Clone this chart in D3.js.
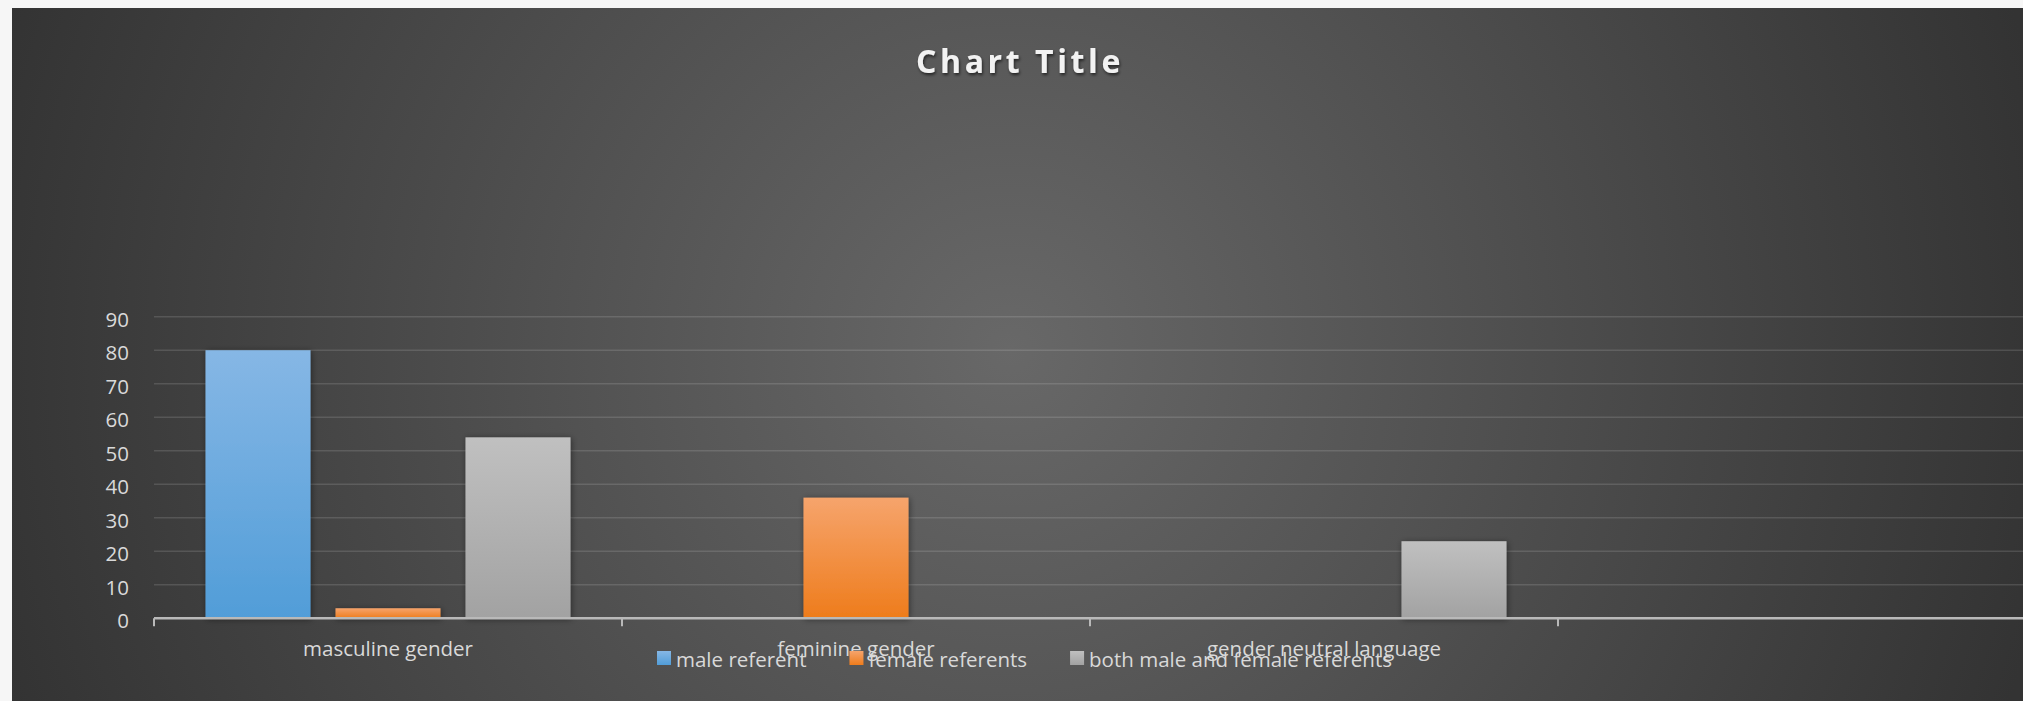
<!DOCTYPE html>
<html>
<head>
<meta charset="utf-8">
<script src="https://cdn.jsdelivr.net/npm/d3@7"></script>
<style>
  html, body { margin: 0; padding: 0; background: #f6f6f6; overflow: hidden; }
  svg { display: block; }
  text { font-family: "Open Sans", "Noto Sans", sans-serif; }
</style>
</head>
<body>
<svg id="chart" width="2023" height="701"></svg>
<script>
// ---- data ----
const categories = ["masculine gender", "feminine gender", "gender neutral language", ""];
const seriesNames = ["male referent", "female referents", "both male and female referents"];
const maleReferent = [80, null, null, null];
const femaleReferents = [3, 36, null, null];
const bothReferents = [54, null, 23, null];
const yTicks = [0, 10, 20, 30, 40, 50, 60, 70, 80, 90];
const chartTitle = "Chart Title";

const seriesValues = [maleReferent, femaleReferents, bothReferents];
const seriesColors = [
  ["#86b7e5", "#519dd8"],
  ["#f6a46c", "#ee7c1c"],
  ["#c0c0c0", "#a2a2a2"]
];

const W = 2023, H = 701;
const svg = d3.select("#chart");
const defs = svg.append("defs");

// background gradient
const bg = defs.append("radialGradient").attr("id", "bgGrad")
  .attr("gradientUnits", "userSpaceOnUse")
  .attr("cx", 1010).attr("cy", 350).attr("r", 1060);
bg.append("stop").attr("offset", 0).attr("stop-color", "#686868");
bg.append("stop").attr("offset", 1).attr("stop-color", "#333333");

seriesColors.forEach((c, i) => {
  const g = defs.append("linearGradient").attr("id", "barGrad" + i)
    .attr("x1", 0).attr("y1", 0).attr("x2", 0).attr("y2", 1);
  g.append("stop").attr("offset", 0).attr("stop-color", c[0]);
  g.append("stop").attr("offset", 1).attr("stop-color", c[1]);
});

const shadow = defs.append("filter").attr("id", "barShadow")
  .attr("x", "-20%").attr("y", "-20%").attr("width", "140%").attr("height", "140%");
shadow.append("feDropShadow").attr("dx", 1).attr("dy", 1).attr("stdDeviation", 3)
  .attr("flood-color", "#000").attr("flood-opacity", 0.45);

const tShadow = defs.append("filter").attr("id", "titleShadow")
  .attr("x", "-10%").attr("y", "-30%").attr("width", "120%").attr("height", "160%");
tShadow.append("feDropShadow").attr("dx", 1).attr("dy", 2).attr("stdDeviation", 1.5)
  .attr("flood-color", "#000").attr("flood-opacity", 0.6);

svg.append("rect").attr("x", 12).attr("y", 8).attr("width", W - 12).attr("height", H - 8)
  .attr("fill", "url(#bgGrad)");

// ---- scales ----
const plotLeft = 154, bandW = 468;
const x0 = d3.scaleBand().domain(d3.range(categories.length))
  .range([plotLeft, plotLeft + bandW * categories.length]).paddingInner(0).paddingOuter(0);
const x1 = d3.scaleBand().domain(d3.range(seriesNames.length))
  .range([51.5, bandW - 51.5]).paddingInner(25 / 130).paddingOuter(0);
const y = d3.scaleLinear().domain([0, 90]).range([618.3, 316.7]);

// gridlines
svg.append("g").selectAll("line").data(yTicks.filter(d => d > 0)).join("line")
  .attr("x1", plotLeft).attr("x2", W)
  .attr("y1", d => y(d)).attr("y2", d => y(d))
  .attr("stroke", "rgba(255,255,255,0.13)").attr("stroke-width", 1.6);

// y tick labels
svg.append("g").selectAll("text").data(yTicks).join("text")
  .attr("x", 129).attr("y", d => y(d) + 3).attr("dy", "0.35em")
  .attr("text-anchor", "end").attr("font-size", "20.5px").attr("fill", "#d9d9d9")
  .text(d => d);

// bars
const barG = svg.append("g").attr("filter", "url(#barShadow)");
seriesValues.forEach((vals, si) => {
  barG.append("g").selectAll("rect")
    .data(vals.map((v, ci) => ({ v, ci })).filter(d => d.v != null))
    .join("rect")
    .attr("x", d => x0(d.ci) + x1(si))
    .attr("width", x1.bandwidth())
    .attr("y", d => y(d.v))
    .attr("height", d => y(0) - y(d.v))
    .attr("fill", "url(#barGrad" + si + ")");
});

// x axis line and ticks
const axisG = svg.append("g");
axisG.append("line").attr("x1", plotLeft).attr("x2", W)
  .attr("y1", y(0)).attr("y2", y(0))
  .attr("stroke", "#b9b9b9").attr("stroke-width", 2.5);
const boundaries = d3.range(categories.length + 1).map(i => plotLeft + bandW * i);
axisG.selectAll("line.tick").data(boundaries).join("line").attr("class", "tick")
  .attr("x1", d => d).attr("x2", d => d)
  .attr("y1", y(0)).attr("y2", y(0) + 8)
  .attr("stroke", "#b9b9b9").attr("stroke-width", 2);

// category labels
svg.append("g").selectAll("text").data(categories).join("text")
  .attr("x", (d, i) => x0(i) + x0.bandwidth() / 2).attr("y", 656)
  .attr("text-anchor", "middle").attr("font-size", "20.5px").attr("fill", "#d9d9d9")
  .text(d => d);

// title
svg.append("text").attr("x", 1020).attr("y", 73)
  .attr("text-anchor", "middle").attr("font-size", "32px").attr("font-weight", "bold")
  .attr("letter-spacing", "3.6px").attr("fill", "#f2f2f2")
  .attr("filter", "url(#titleShadow)")
  .text(chartTitle);

// legend
const legend = svg.append("g");
const items = legend.selectAll("g").data(seriesNames).join("g");
items.append("rect").attr("width", 14).attr("height", 14).attr("y", 651)
  .attr("fill", (d, i) => "url(#barGrad" + i + ")");
items.append("text").attr("x", 19).attr("y", 667)
  .attr("font-size", "20.5px").attr("fill", "#d9d9d9").text(d => d);
let cx = 0;
const offs = [];
items.each(function (d, i) {
  const tw = d3.select(this).select("text").node().getComputedTextLength();
  offs.push(cx);
  cx += 19 + tw + 43;
});
const totalW = cx - 43;
const startX = 1024.5 - totalW / 2;
items.attr("transform", (d, i) => `translate(${startX + offs[i]},0)`);
</script>
</body>
</html>
